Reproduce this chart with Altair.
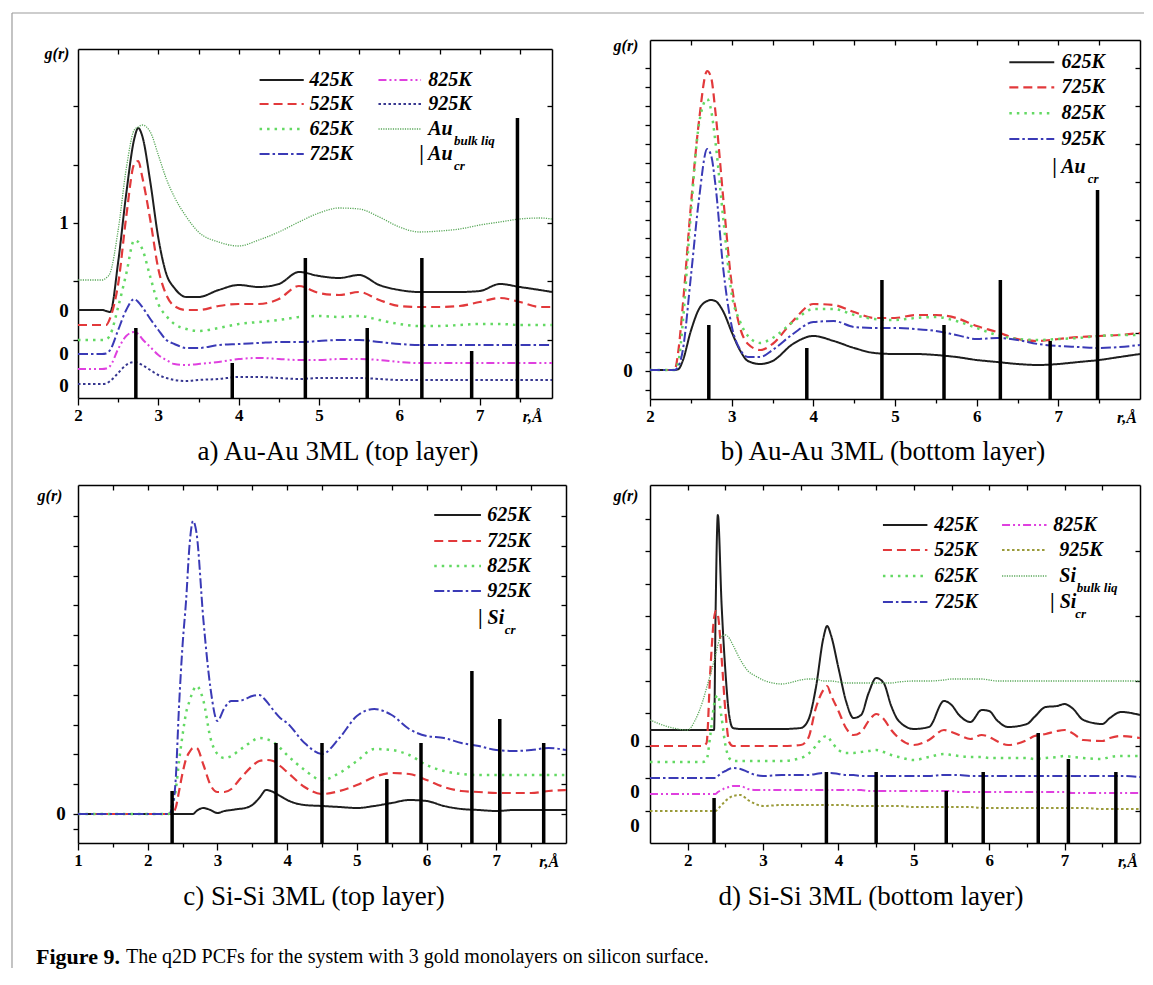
import altair as alt
import pandas as pd

FONT = "Liberation Serif"

# ---------------- panel a : Au-Au 3ML (top layer) ----------------
A_R = [2.0, 2.3, 2.35, 2.4, 2.5, 2.6, 2.7, 2.75, 2.8, 2.9,
       3.0, 3.1, 3.2, 3.35, 3.5, 3.75, 4.0, 4.25, 4.5, 4.75,
       5.0, 5.25, 5.5, 5.75, 6.0, 6.25, 6.5, 6.75, 7.0, 7.25,
       7.5, 7.75, 7.9]
A_425 = [88, 88, 87, 86, 136, 204, 259, 270, 262, 216,
         160, 124, 110, 101, 101, 108, 113, 111, 114, 126,
         122, 120, 123, 113, 108, 106, 106, 106, 107, 114,
         111, 108, 106]
A_525 = [73, 73, 73, 80, 114, 181, 234, 237, 221, 178,
         129, 103, 92, 88, 88, 92, 94, 94, 99, 112,
         105, 103, 106, 98, 92, 91, 91, 92, 96, 100,
         96, 91, 91]
A_625 = [58, 58, 58.5, 63, 91, 124, 157.7, 156, 149, 121,
         94, 82, 74, 69, 67, 70, 74, 76, 78, 81,
         82, 81, 82, 78, 74, 72, 72, 73, 74, 74,
         73, 73, 73]
A_725 = [44, 44, 44.5, 48, 68, 88, 99, 96, 91, 79,
         68, 58, 54, 50, 50, 53, 54, 55, 56, 56,
         57, 58, 58, 56, 54, 53, 53, 53, 53, 53,
         53, 53, 53]
A_825 = [29, 29, 29.5, 32, 49, 62, 66, 64, 59, 51,
         43, 38, 34, 33, 34, 36, 39, 40, 39, 38,
         38, 39, 39, 38, 36, 35, 35, 35, 35, 35,
         35, 35, 35]
A_925 = [14, 14, 14.5, 17, 25, 33, 36, 35, 33, 28,
         23, 20, 18, 17, 18, 19, 21, 21, 20, 19,
         20, 20, 20, 19, 18, 18, 18, 18, 18, 18,
         18, 18, 18]
A_BULK = [118, 118, 120, 125, 168, 229, 268, 271, 273, 266,
          243, 219, 201, 181, 166, 156, 152, 158, 166, 176,
          185, 190, 189, 181, 171, 166, 167, 169, 173, 176,
          179, 180, 179]
AU_CR_A = [2.72, 3.92, 4.83, 5.6, 6.28, 6.9, 7.47]
AU_CR_A_H = [70, 35, 140, 70, 140, 47, 280]

# ---------------- panel b : Au-Au 3ML (bottom layer) ----------------
B_R = [2.0, 2.3, 2.35, 2.4, 2.5, 2.6, 2.7, 2.75, 2.8, 2.9,
       3.0, 3.1, 3.2, 3.35, 3.5, 3.75, 4.0, 4.25, 4.5, 4.75,
       5.0, 5.25, 5.5, 5.75, 6.0, 6.25, 6.5, 6.75, 7.0, 7.25,
       7.5, 7.75, 8.0]
B_625 = [29, 29, 30, 38, 68, 90, 98, 99, 98, 87,
         67, 49, 38, 35, 38, 55, 63, 58, 51, 46,
         45, 45, 44, 42, 39, 37, 35, 34, 35, 37,
         39, 42, 45]
B_725 = [29, 29, 50, 92, 193, 278, 328, 321, 288, 198,
         115, 72, 55, 49, 55, 78, 95, 94, 87, 81,
         81, 84, 84, 81, 73, 67, 60, 58, 60, 62,
         63, 64, 66]
B_825 = [29, 29, 38, 75, 185, 275, 300, 288, 258, 178,
         105, 78, 63, 56, 61, 77, 90, 90, 84, 80,
         79, 81, 82, 78, 71, 64, 60, 59, 60, 61,
         63, 64, 64]
B_925 = [29, 29, 33, 48, 122, 200, 250, 243, 215, 128,
         73, 50, 42, 42, 49, 65, 77, 78, 72, 71,
         71, 70, 68, 64, 60, 61, 59, 55, 53, 52,
         51, 52, 54]
AU_CR_B = [2.72, 3.92, 4.84, 5.6, 6.29, 6.9, 7.48]
AU_CR_B_H = [74, 51, 119, 74, 119, 58, 209]

# ---------------- panel c : Si-Si 3ML (top layer) ----------------
C_R = [1.0, 2.3, 2.35, 2.4, 2.45, 2.5, 2.55, 2.6, 2.65, 2.7,
       2.8, 2.9, 3.0, 3.1, 3.2, 3.3, 3.4, 3.5, 3.6, 3.7,
       3.8, 3.9, 4.0, 4.25, 4.5, 4.75, 5.0, 5.25, 5.5, 5.75,
       6.0, 6.25, 6.5, 6.75, 7.0, 7.25, 7.5, 7.75, 8.0]
C_625 = [29, 29, 29, 29, 29, 29, 29, 29, 29, 32,
         35, 33, 30, 32, 33, 34, 35, 38, 45, 53,
         51, 47, 43, 38, 37, 36, 35, 37, 40, 43,
         42, 37, 34, 33, 32, 33, 33, 33, 33]
C_725 = [29, 29, 30, 35, 52, 70, 84, 91, 95, 95,
         78, 58, 51, 51, 54, 62, 70, 77, 82, 83,
         82, 77, 71, 56, 49, 52, 58, 66, 70, 69,
         63, 56, 52, 51, 50, 50, 50, 52, 53]
C_825 = [29, 29, 38, 52, 82, 108, 130, 142, 152, 157,
         142, 105, 89, 85, 87, 92, 97, 102, 105, 104,
         101, 95, 88, 73, 63, 70, 82, 94, 93, 88,
         78, 72, 69, 68, 68, 68, 68, 68, 68]
C_925 = [29, 29, 35, 62, 138, 198, 242, 298, 322, 310,
         222, 155, 122, 135, 142, 142, 144, 147, 148, 142,
         133, 125, 120, 100, 89, 105, 127, 134, 128, 114,
         107, 105, 100, 97, 93, 92, 93, 95, 93]
SI_CR_C = [2.35, 3.84, 4.50, 5.43, 5.92, 6.65, 7.05, 7.68]
SI_CR_C_H = [52, 100, 100, 64, 100, 172, 124, 100]

# ---------------- panel d : Si-Si 3ML (bottom layer) ----------------
D_R = [1.5, 1.75, 2.0, 2.1, 2.2, 2.25, 2.3, 2.35, 2.37, 2.4,
       2.45, 2.5, 2.55, 2.6, 2.7, 2.8, 2.9, 3.0, 3.25, 3.5,
       3.6, 3.7, 3.8, 3.85, 3.9, 4.0, 4.1, 4.2, 4.3, 4.4,
       4.5, 4.6, 4.7, 4.8, 5.0, 5.2, 5.4, 5.5, 5.6, 5.75,
       5.9, 6.0, 6.1, 6.25, 6.5, 6.6, 6.75, 6.9, 7.0, 7.1,
       7.25, 7.5, 7.6, 7.75, 8.0]
D_425 = [113, 113, 113, 113, 113, 113, 113, 113, 230, 328,
         238, 172, 128, 115, 114, 114, 114, 114, 114, 115,
         123, 155, 205, 217, 208, 175, 142, 125, 128, 150,
         165, 160, 137, 122, 114, 116, 142, 138, 128, 121,
         133, 132, 123, 116, 119, 126, 136, 137, 139, 135,
         123, 119, 125, 131, 128]
D_525 = [97, 97, 97, 97, 97, 100, 172, 225, 232, 228,
         185, 132, 101, 97, 97, 97, 97, 97, 97, 98,
         105, 135, 153, 157, 148, 132, 115, 108, 111, 122,
         129, 124, 113, 105, 98, 103, 113, 111, 108, 104,
         108, 106, 102, 98, 103, 107, 109, 112, 113, 110,
         103, 102, 105, 107, 105]
D_625 = [81, 81, 81, 81, 81, 83, 108, 138, 145, 148,
         125, 98, 85, 82, 82, 82, 82, 82, 82, 85,
         89, 97, 106, 107, 102, 93, 90, 90, 91, 92,
         93, 91, 88, 86, 83, 86, 89, 88, 87, 86,
         86, 85, 85, 85, 85, 84, 85, 86, 87, 86,
         85, 84, 86, 87, 87]
D_725 = [65, 65, 65, 65, 65, 65, 65, 65, 65, 67,
         70, 72, 74, 75, 74, 71, 68, 67, 68, 68,
         68, 69, 70, 70, 70, 69, 68, 68, 67, 67,
         67, 67, 67, 67, 67, 67, 68, 68, 68, 67,
         67, 67, 67, 67, 67, 67, 67, 67, 67, 67,
         67, 67, 67, 67, 66]
D_825 = [49, 49, 49, 49, 49, 49, 49, 49, 49, 51,
         53, 55, 56, 57, 57, 54, 53, 53, 53, 53,
         53, 53, 53, 53, 53, 53, 53, 53, 53, 52,
         52, 52, 52, 52, 52, 52, 52, 52, 51, 51,
         51, 51, 51, 51, 51, 51, 51, 51, 51, 50,
         50, 50, 50, 50, 50]
D_925 = [32, 32, 32, 32, 32, 32, 32, 32, 32, 34,
         38, 42, 45, 47, 48, 43, 39, 37, 38, 38,
         38, 38, 38, 38, 38, 38, 38, 37, 37, 37,
         37, 37, 37, 37, 36, 36, 36, 36, 36, 36,
         35, 35, 35, 35, 35, 35, 35, 35, 35, 35,
         35, 34, 34, 34, 34]
D_BULK = [123, 116, 113, 123, 142, 155, 168, 182, 188, 198,
          207, 208, 205, 198, 183, 172, 167, 163, 159, 163,
          164, 164, 162, 162, 162, 161, 160, 160, 160, 160,
          160, 160, 160, 161, 162, 162, 163, 164, 164, 164,
          164, 163, 162, 162, 162, 162, 162, 162, 162, 162,
          162, 162, 162, 162, 162]
SI_CR_D = [2.35, 3.84, 4.50, 5.43, 5.92, 6.65, 7.05, 7.68]
SI_CR_D_H = [45, 71, 71, 52, 71, 110, 84, 71]

# line styles: colour, dash, width
STYLE = {
    "black": ("#1e1e1e", [1, 0], 2.0),
    "red": ("#e2393b", [9, 5], 2.2),
    "green": ("#63d963", [2.5, 5], 2.5),
    "blue": ("#3a3ab6", [10, 3, 2.5, 3], 2.0),
    "magenta": ("#df40df", [8, 3, 2, 3, 2, 3], 2.0),
    "navy": ("#36368f", [2.5, 2.5], 2.0),
    "olive": ("#9a9a38", [2.5, 2.5], 2.0),
    "bulk": ("#5aa85a", [1.2, 1.2], 1.3),
}

ONE = pd.DataFrame({"k": [0]})


def halves(a, b):
    out, v = [], a
    while v <= b + 1e-9:
        out.append(round(v, 2))
        v += 0.5
    return out


def axis(orient, values, size, labels=False, domain=True, offset=0):
    kw = dict(orient=orient, values=values, tickSize=size, labels=labels, domain=domain,
              grid=False, title=None, tickColor="black", tickWidth=1.3,
              domainColor="black", domainWidth=1.5, offset=offset)
    if labels:
        kw.update(labelFont=FONT, labelFontSize=17, labelFontWeight="bold",
                  labelColor="black", labelPadding=2, labelFlush=False,
                  labelOverlap=False, format="d")
    return alt.Axis(**kw)


def txt(df, size, weight="bold", style="italic", align="left", dx=0, dy=0, **kw):
    return alt.Chart(df).mark_text(font=FONT, fontSize=size, fontWeight=weight,
                                   fontStyle=style, align=align, baseline="middle",
                                   dx=dx, dy=dy, color="black", **kw)


def panel(P):
    W, H, PH = P["w"], P["h"], P["ph"]
    xs = alt.Scale(domain=P["xdom"], nice=False, zero=False)
    ys = alt.Scale(domain=[0, PH], range=[H, H - PH], nice=False, zero=False)
    names = [n for n, _, _ in P["series"]]
    stl = [STYLE[k] for _, _, k in P["series"]]
    sty = dict(
        color=alt.Color("series:N", scale=alt.Scale(domain=names, range=[s[0] for s in stl]), legend=None),
        strokeDash=alt.StrokeDash("series:N", scale=alt.Scale(domain=names, range=[s[1] for s in stl]), legend=None),
        strokeWidth=alt.StrokeWidth("series:N", scale=alt.Scale(type="ordinal", domain=names,
                                                                 range=[s[2] for s in stl]), legend=None),
    )
    rows = []
    for n, vals, _ in P["series"]:
        for r, g in zip(P["r"], vals):
            rows.append({"r": r, "g": g, "series": n})
    lines = alt.Chart(pd.DataFrame(rows)).mark_line(interpolate="monotone").encode(
        x=alt.X("r:Q", scale=xs, axis=axis("bottom", P["xmaj"], 7, labels=True)),
        y=alt.Y("g:Q", scale=ys, axis=axis("left", P["yleft"], 5)),
        **sty)
    bdf = pd.DataFrame({"r": P["bars_r"], "h": P["bars_h"], "base": [0] * len(P["bars_r"])})
    bars = alt.Chart(bdf).mark_rule(color="black", strokeWidth=3.5).encode(
        x=alt.X("r:Q", scale=xs, axis=axis("bottom", P["xmin"], 4, domain=False)),
        y=alt.Y("base:Q", scale=ys, axis=axis("left", P["yright"], 5, offset=-W)),
        y2="h:Q")
    leg = pd.DataFrame(P["leg_samples"], columns=["series", "x1", "x2", "y"])
    samples = alt.Chart(leg).mark_rule().encode(
        x=alt.X("x1:Q", scale=xs, axis=axis("bottom", P["xtop"], 5, offset=-PH)),
        x2="x2:Q",
        y=alt.Y("y:Q", scale=ys, axis=None),
        **sty)
    ltext = txt(pd.DataFrame(P["leg_text"], columns=["x", "y", "t"]), 20).encode(
        x=alt.X("x:Q", scale=xs, axis=None), y=alt.Y("y:Q", scale=ys, axis=None), text="t:N")
    lsub = txt(pd.DataFrame(P["leg_sub"], columns=["x", "y", "t"]), 13).encode(
        x=alt.X("x:Q", scale=xs, axis=None), y=alt.Y("y:Q", scale=ys, axis=None), text="t:N")
    zeros = txt(pd.DataFrame(P["zeros"], columns=["y", "t"]), 19, style="normal",
                align="center", dx=P["zero_dx"]).encode(
        x=alt.value(0), y=alt.Y("y:Q", scale=ys, axis=None), text="t:N")
    gr = txt(ONE, 16, align="center", dx=P["gr"][0], dy=P["gr"][1], text="g(r)").encode(
        x=alt.value(0), y=alt.value(H - PH))
    rlab = txt(pd.DataFrame({"r": [P["rlab"]]}), 16, align="center", dy=19, text="r,Å").encode(
        x=alt.X("r:Q", scale=xs, axis=None), y=alt.value(H))
    cap_text, cx, cy = P["caption"]
    cap = txt(ONE, 27, weight="normal", style="normal", align="center", text=cap_text).encode(
        x=alt.value(cx), y=alt.value(cy))
    layers = [lines, bars, samples, ltext, lsub, zeros, gr, rlab, cap] + P.get("extras", [])
    return alt.layer(*layers).resolve_axis(x="independent", y="independent").properties(width=W, height=H)


# decorative frame of the figure and the figure caption
frame = alt.Chart(ONE).mark_rule(color="#9c9c9c", strokeWidth=1.2)
frame_left = frame.encode(x=alt.value(-66), y=alt.value(-27), y2=alt.value(928))
frame_top = frame.encode(x=alt.value(-66), x2=alt.value(1066), y=alt.value(-27))
fig_bold = txt(ONE, 22, style="normal", text="Figure 9.").encode(x=alt.value(-42), y=alt.value(472))
fig_rest = txt(ONE, 20, weight="normal", style="normal",
               text="The q2D PCFs for the system with 3 gold monolayers on silicon surface.").encode(
    x=alt.value(48), y=alt.value(472))

PA = dict(
    w=474, h=358, ph=349, xdom=[2, 7.9], r=A_R,
    series=[("425K", A_425, "black"), ("525K", A_525, "red"), ("625K", A_625, "green"),
            ("725K", A_725, "blue"), ("825K", A_825, "magenta"), ("925K", A_925, "navy"),
            ("bulk", A_BULK, "bulk")],
    bars_r=AU_CR_A, bars_h=AU_CR_A_H,
    xmaj=[2, 3, 4, 5, 6, 7], xmin=halves(2.5, 7.5)[::2], xtop=halves(2.5, 7.5),
    yleft=[58.3, 116.7, 175, 233.3, 291.7], yright=[58.3, 116.7, 175, 233.3, 291.7],
    zeros=[(175, "1"), (86.7, "0"), (43.7, "0"), (12, "0")], zero_dx=-14,
    gr=(-21, 5), rlab=7.66,
    leg_samples=[("425K", 4.26, 4.81, 318), ("525K", 4.26, 4.81, 294), ("625K", 4.26, 4.81, 269),
                 ("725K", 4.26, 4.81, 244), ("825K", 5.74, 6.27, 318), ("925K", 5.74, 6.27, 294),
                 ("bulk", 5.74, 6.27, 269)],
    leg_text=[(4.88, 318, "425K"), (4.88, 294, "525K"), (4.88, 269, "625K"), (4.88, 244, "725K"),
              (6.36, 318, "825K"), (6.36, 294, "925K"), (6.36, 269, "Au"), (6.25, 244, "| Au")],
    leg_sub=[(6.68, 257, "bulk liq"), (6.68, 232, "cr")],
    caption=("a) Au-Au 3ML (top layer)", 260, 412),
    extras=[frame_left, frame_top],
)

PB = dict(
    w=490, h=359, ph=359, xdom=[2, 8], r=B_R,
    series=[("625K", B_625, "black"), ("725K", B_725, "red"), ("825K", B_825, "green"),
            ("925K", B_925, "blue")],
    bars_r=AU_CR_B, bars_h=AU_CR_B_H,
    xmaj=[2, 3, 4, 5, 6, 7], xmin=halves(2.5, 7.5)[::2], xtop=halves(2.5, 7.5),
    yleft=[round(9.4 + 18.9 * k, 1) for k in range(18)],
    yright=[round(28.3 + 37.8 * k, 1) for k in range(1, 9)],
    zeros=[(28.3, "0")], zero_dx=-22, gr=(-24, 6), rlab=7.84,
    leg_samples=[("625K", 6.40, 6.95, 336.7), ("725K", 6.40, 6.95, 311.7),
                 ("825K", 6.40, 6.95, 285.7), ("925K", 6.40, 6.95, 260)],
    leg_text=[(7.04, 336.7, "625K"), (7.04, 311.7, "725K"), (7.04, 285.7, "825K"),
              (7.04, 260, "925K"), (6.93, 231.7, "| Au")],
    leg_sub=[(7.36, 220, "cr")],
    caption=("b) Au-Au 3ML (bottom layer)", 233, 412),
)

PC = dict(
    w=488, h=358, ph=358, xdom=[1, 8], r=C_R,
    series=[("625K", C_625, "black"), ("725K", C_725, "red"), ("825K", C_825, "green"),
            ("925K", C_925, "blue")],
    bars_r=SI_CR_C, bars_h=SI_CR_C_H,
    xmaj=[1, 2, 3, 4, 5, 6, 7], xmin=halves(1.5, 7.5)[::2], xtop=halves(1.5, 7.5),
    yleft=[14.3] + [round(29 + 29.8 * k, 1) for k in range(11)],
    yright=[round(29 + 29.8 * k, 1) for k in range(11)],
    zeros=[(29, "0")], zero_dx=-17, gr=(-28, 11), rlab=7.76,
    leg_samples=[("625K", 6.11, 6.78, 328), ("725K", 6.11, 6.78, 302),
                 ("825K", 6.11, 6.78, 277), ("925K", 6.11, 6.78, 252)],
    leg_text=[(6.87, 328, "625K"), (6.87, 302, "725K"), (6.87, 277, "825K"),
              (6.87, 252, "925K"), (6.74, 225, "| Si")],
    leg_sub=[(7.12, 213, "cr")],
    caption=("c) Si-Si 3ML (top layer)", 236, 412),
    extras=[fig_bold, fig_rest],
)

PD = dict(
    w=490, h=358, ph=358, xdom=[1.5, 8], r=D_R,
    series=[("425K", D_425, "black"), ("525K", D_525, "red"), ("625K", D_625, "green"),
            ("725K", D_725, "blue"), ("825K", D_825, "magenta"), ("925K", D_925, "olive"),
            ("bulk", D_BULK, "bulk")],
    bars_r=SI_CR_D, bars_h=SI_CR_D_H,
    xmaj=[2, 3, 4, 5, 6, 7], xmin=halves(2.5, 7.5)[::2], xtop=halves(2.0, 7.5),
    yleft=[round(32.4 * k, 1) for k in range(1, 11)],
    yright=[round(32.4 * (2 * k + 1), 1) for k in range(5)],
    zeros=[(102, "0"), (51, "0"), (17, "0")], zero_dx=-15, gr=(-24, 11), rlab=7.84,
    leg_samples=[("425K", 4.59, 5.18, 318), ("525K", 4.59, 5.18, 293), ("625K", 4.59, 5.18, 267),
                 ("725K", 4.59, 5.18, 241), ("825K", 6.17, 6.76, 318), ("925K", 6.17, 6.76, 293),
                 ("bulk", 6.17, 6.76, 267)],
    leg_text=[(5.27, 318, "425K"), (5.27, 293, "525K"), (5.27, 267, "625K"), (5.27, 241, "725K"),
              (6.85, 318, "825K"), (6.93, 293, "925K"), (6.93, 267, "Si"), (6.81, 241, "| Si")],
    leg_sub=[(7.16, 255, "bulk liq"), (7.14, 229, "cr")],
    caption=("d) Si-Si 3ML (bottom layer)", 221, 412),
)

chart = alt.concat(
    panel(PA), panel(PB), panel(PC), panel(PD),
    columns=2, spacing={"row": 86, "column": 84}, bounds="flush", align="each",
).resolve_scale(
    color="independent", strokeDash="independent", strokeWidth="independent",
).properties(
    padding={"left": 3, "top": 4, "right": 0, "bottom": 0},
    background="white",
).configure_view(strokeWidth=0)

chart.save("out.html", embed_options={"renderer": "svg", "actions": False})
